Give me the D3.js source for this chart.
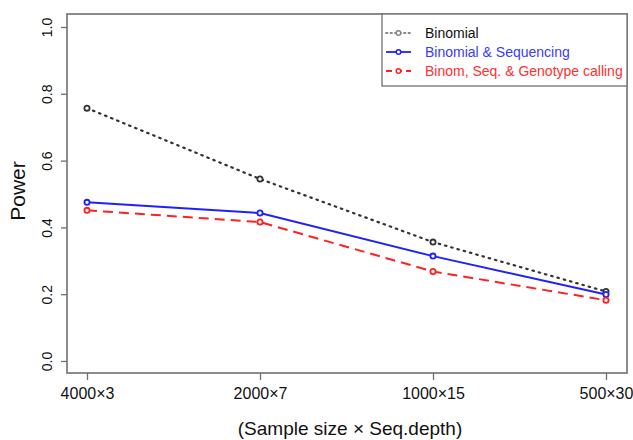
<!DOCTYPE html>
<html><head><meta charset="utf-8">
<script src="https://cdn.jsdelivr.net/npm/d3@7"></script>
<style>body{margin:0;background:#fff}svg{display:block;font-family:"Liberation Sans",Arial,sans-serif}</style>
</head><body><svg id="c" width="633" height="440"></svg>
<script>
const categories = ["4000×3","2000×7","1000×15","500×30"];
const binomial = [0.757, 0.545, 0.356, 0.208];
const binomSeq = [0.475, 0.443, 0.314, 0.199];
const binomSeqGeno = [0.451, 0.416, 0.268, 0.182];
const yTicks = [0.0, 0.2, 0.4, 0.6, 0.8, 1.0];
const seriesNames = ["Binomial","Binomial & Sequencing","Binom, Seq. & Genotype calling"];

const svg = d3.select("#c");
const L=67, R=627, T=14, B=373;
const x = d3.scalePoint().domain(categories).range([87,606]);
const y = d3.scaleLinear().domain([0,1]).range([361,27]);

svg.append("rect").attr("x",L).attr("y",T).attr("width",R-L).attr("height",B-T)
  .attr("fill","none").attr("stroke","#707070").attr("stroke-width",1.6);

const yAx = svg.append("g").attr("transform",`translate(${L},0)`)
  .call(d3.axisLeft(y).tickValues(yTicks).tickFormat(d3.format(".1f")).tickSize(6).tickPadding(0));
yAx.select(".domain").remove();
yAx.selectAll("line").attr("stroke","#707070").attr("stroke-width",1.3);
yAx.selectAll(".tick text").attr("x",null).attr("y",0).attr("dy","0.35em")
  .attr("text-anchor","middle").attr("font-size",14).attr("fill","#111")
  .attr("transform","translate(-20,0) rotate(-90)");

const xAx = svg.append("g").attr("transform",`translate(0,${B})`)
  .call(d3.axisBottom(x).tickSize(7).tickPadding(8));
xAx.select(".domain").remove();
xAx.selectAll("line").attr("stroke","#707070").attr("stroke-width",1.3);
xAx.selectAll("text").attr("font-size",16).attr("fill","#111");

svg.append("text").attr("x",350).attr("y",435).attr("text-anchor","middle")
  .attr("font-size",19).attr("fill","#111").text("(Sample size × Seq.depth)");
svg.append("text").attr("transform","translate(25,191) rotate(-90)").attr("text-anchor","middle")
  .attr("font-size",21).attr("fill","#111").text("Power");

const series = [
  {vals:binomial, color:"#333", dash:"1.5,5", width:2.2, cap:"round"},
  {vals:binomSeq, color:"#2020ff", dash:null, width:2, cap:"butt"},
  {vals:binomSeqGeno, color:"#ff2020", dash:"10,6", width:2, cap:"butt"}
];
const line = d3.line().x((d,i)=>x(categories[i])).y(d=>y(d));
series.forEach(s=>{
  svg.append("path").datum(s.vals).attr("d",line).attr("fill","none")
    .attr("stroke",s.color).attr("stroke-width",s.width).attr("stroke-dasharray",s.dash)
    .attr("stroke-linecap",s.cap);
  svg.selectAll(null).data(s.vals).enter().append("circle")
    .attr("cx",(d,i)=>x(categories[i])).attr("cy",d=>y(d)).attr("r",2.6)
    .attr("fill","#fff").attr("stroke",s.color).attr("stroke-width",1.8);
});

// legend
const lg = svg.append("g");
lg.append("rect").attr("x",382).attr("y",T).attr("width",R-382).attr("height",72)
  .attr("fill","#fff").attr("stroke","#707070").attr("stroke-width",1.3);
const lcol = ["#888","#2020ff","#ff2020"];
const tcol = ["#111","#3a3aff","#ff3030"];
series.forEach((s,i)=>{
  const yy = 33 + i*19;
  lg.append("line").attr("x1",386).attr("x2",411).attr("y1",yy).attr("y2",yy)
    .attr("stroke",lcol[i]).attr("stroke-width",1.8).attr("stroke-dasharray",i===0?"1.5,3":(i===2?"6,4":null))
    .attr("stroke-linecap",i===0?"round":"butt");
  lg.append("circle").attr("cx",398.5).attr("cy",yy).attr("r",2.3).attr("fill","#fff")
    .attr("stroke",lcol[i]).attr("stroke-width",1.5);
  lg.append("text").attr("x",425).attr("y",yy).attr("dy","0.35em").attr("font-size",14)
    .attr("fill",tcol[i]).text(seriesNames[i]);
});
</script></body></html>
